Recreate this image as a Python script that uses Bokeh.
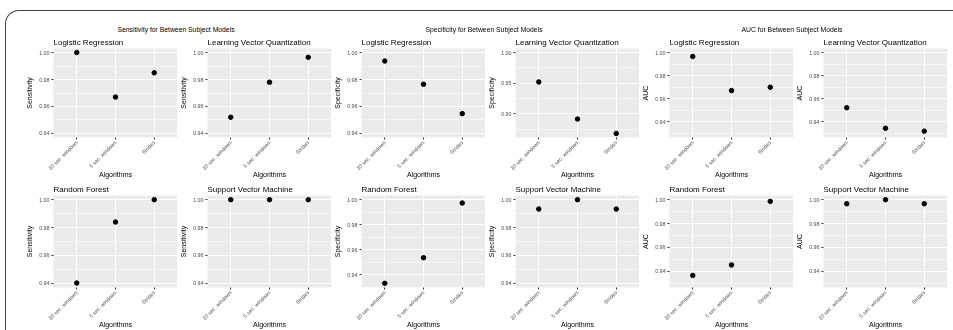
import math
from bokeh.plotting import figure
from bokeh.layouts import row, column
from bokeh.models import Range1d, FixedTicker, PrintfTickFormatter, Div
from bokeh.embed import file_html
from bokeh.resources import INLINE

# ---------------- data ----------------
algorithms = ["30 sec. windows", "5 sec. windows", "Strides"]
models = ["Logistic Regression", "Learning Vector Quantization",
          "Random Forest", "Support Vector Machine"]

sensitivity_lr = [1.000, 0.967, 0.985]
sensitivity_lvq = [0.952, 0.978, 0.9965]
sensitivity_rf = [0.9402, 0.984, 1.000]
sensitivity_svm = [1.000, 1.000, 1.000]

specificity_lr = [0.9937, 0.9765, 0.9547]
specificity_lvq = [0.952, 0.8915, 0.868]
specificity_rf = [0.933, 0.9535, 0.9973]
specificity_svm = [0.9933, 1.000, 0.9933]

auc_lr = [0.9966, 0.9671, 0.9700]
auc_lvq = [0.9523, 0.9345, 0.932]
auc_rf = [0.9366, 0.9454, 0.9986]
auc_svm = [0.9966, 1.000, 0.9966]

metric_names = ["Sensitivity", "Specificity", "AUC"]
block_titles = ["Sensitivity for Between Subject Models",
                "Specificity for Between Subject Models",
                "AUC for Between Subject Models"]
metric_values = {
    "Sensitivity": [sensitivity_lr, sensitivity_lvq, sensitivity_rf, sensitivity_svm],
    "Specificity": [specificity_lr, specificity_lvq, specificity_rf, specificity_svm],
    "AUC": [auc_lr, auc_lvq, auc_rf, auc_svm],
}
# lower limit always included in each panel's y scale
y_floor = {"Sensitivity": 0.94, "Specificity": 0.94, "AUC": 0.93}
y_ceiling = 1.0

y_ticks_fine = [0.94, 0.96, 0.98, 1.00]
y_minor_fine = [0.93, 0.95, 0.97, 0.99]
y_ticks_wide = [0.90, 0.95, 1.00]
y_minor_wide = [0.875, 0.925, 0.975]

# ---------------- style ----------------
FONT = "Liberation Sans"
PANEL_BG = "#EBEBEB"
TICK_COLOR = "#333333"
LABEL_COLOR = "#4D4D4D"
FRAME_W = 124
BORDER_L = 29


def make_fig(title, metric, values, top_row):
    lo = min(y_floor[metric], min(values))
    hi = max(y_ceiling, max(values))
    pad = (hi - lo) * 0.05
    span = hi - lo
    if span > 0.1:
        ticks, minor = y_ticks_wide, y_minor_wide
    else:
        ticks, minor = y_ticks_fine, y_minor_fine

    if top_row:
        b_top, f_h, b_bot, standoff = 13, 89, 44, 3
    else:
        b_top, f_h, b_bot, standoff = 12, 92, 42, 3

    p = figure(frame_width=FRAME_W, frame_height=f_h,
               x_range=Range1d(0.4, len(algorithms) + 0.6),
               y_range=Range1d(lo - pad, hi + pad),
               output_backend="svg", toolbar_location=None,
               min_border_left=BORDER_L, min_border_right=0,
               min_border_top=b_top, min_border_bottom=b_bot)
    p.background_fill_color = PANEL_BG
    p.border_fill_color = "white"
    p.outline_line_color = None

    p.title.text = title
    p.title.text_font = FONT
    p.title.text_font_size = "8px"
    p.title.text_font_style = "normal"
    p.title.text_color = "black"
    p.title.align = "left"
    p.title.standoff = standoff
    p.title.offset = 0

    xs = [i + 1 for i in range(len(algorithms))]
    p.scatter(xs, values, size=4.5, color="black")

    # x axis
    p.xaxis.ticker = FixedTicker(ticks=xs)
    p.xaxis.major_label_overrides = {x: a for x, a in zip(xs, algorithms)}
    p.xaxis.major_label_orientation = math.pi / 4
    p.xaxis.axis_label = "Algorithms"
    # y axis
    p.yaxis.ticker = FixedTicker(ticks=ticks, minor_ticks=minor)
    p.yaxis.formatter = PrintfTickFormatter(format="%.2f")
    p.yaxis.axis_label = metric

    for ax in (p.xaxis[0], p.yaxis[0]):
        ax.axis_line_color = None
        ax.major_tick_line_color = TICK_COLOR
        ax.major_tick_out = 2
        ax.major_tick_in = 0
        ax.minor_tick_out = 0
        ax.minor_tick_in = 0
        ax.major_label_text_font = FONT
        ax.major_label_text_font_size = "5.3px"
        ax.major_label_text_color = LABEL_COLOR
        ax.major_label_standoff = 2
        ax.axis_label_text_font = FONT
        ax.axis_label_text_font_size = "7px"
        ax.axis_label_text_font_style = "normal"
        ax.axis_label_text_color = "black"
    p.xaxis.axis_label_standoff = -5
    p.yaxis.axis_label_standoff = 3

    p.xgrid.ticker = FixedTicker(ticks=xs)
    p.xgrid.grid_line_color = "white"
    p.xgrid.grid_line_width = 1
    p.ygrid.ticker = FixedTicker(ticks=ticks, minor_ticks=minor)
    p.ygrid.grid_line_color = "white"
    p.ygrid.grid_line_width = 1
    p.ygrid.minor_grid_line_color = "white"
    p.ygrid.minor_grid_line_width = 0.5
    return p


FRAME_OVERLAY = ('<div style="position:fixed;left:5px;top:10px;width:1400px;'
                 'height:800px;border-top:1.5px solid #444444;'
                 'border-left:1.5px solid #444444;border-top-left-radius:14px;'
                 'pointer-events:none;box-sizing:border-box;"></div>')

blocks = []
for k, (metric, btitle) in enumerate(zip(metric_names, block_titles)):
    vals = metric_values[metric]
    figs = [make_fig(models[i], metric, vals[i], i < 2) for i in range(4)]
    bw = 2 * (BORDER_L + FRAME_W)
    overlay = FRAME_OVERLAY if k == 0 else ""
    div = Div(text=(f'{overlay}<div style="width:{bw}px;text-align:center;'
                    f'font-family:\'{FONT}\';font-size:6.8px;line-height:7px;'
                    f'padding-top:13.5px;color:black;white-space:nowrap;">{btitle}</div>'),
              width=bw, height=22, margin=0)
    blocks.append(column(div, row(figs[0], figs[1], spacing=0),
                         row(figs[2], figs[3], spacing=0), spacing=0))

root = row(*blocks, spacing=0, margin=(12, 0, 0, 23))

open("out.html", "w").write(file_html(root, INLINE))
